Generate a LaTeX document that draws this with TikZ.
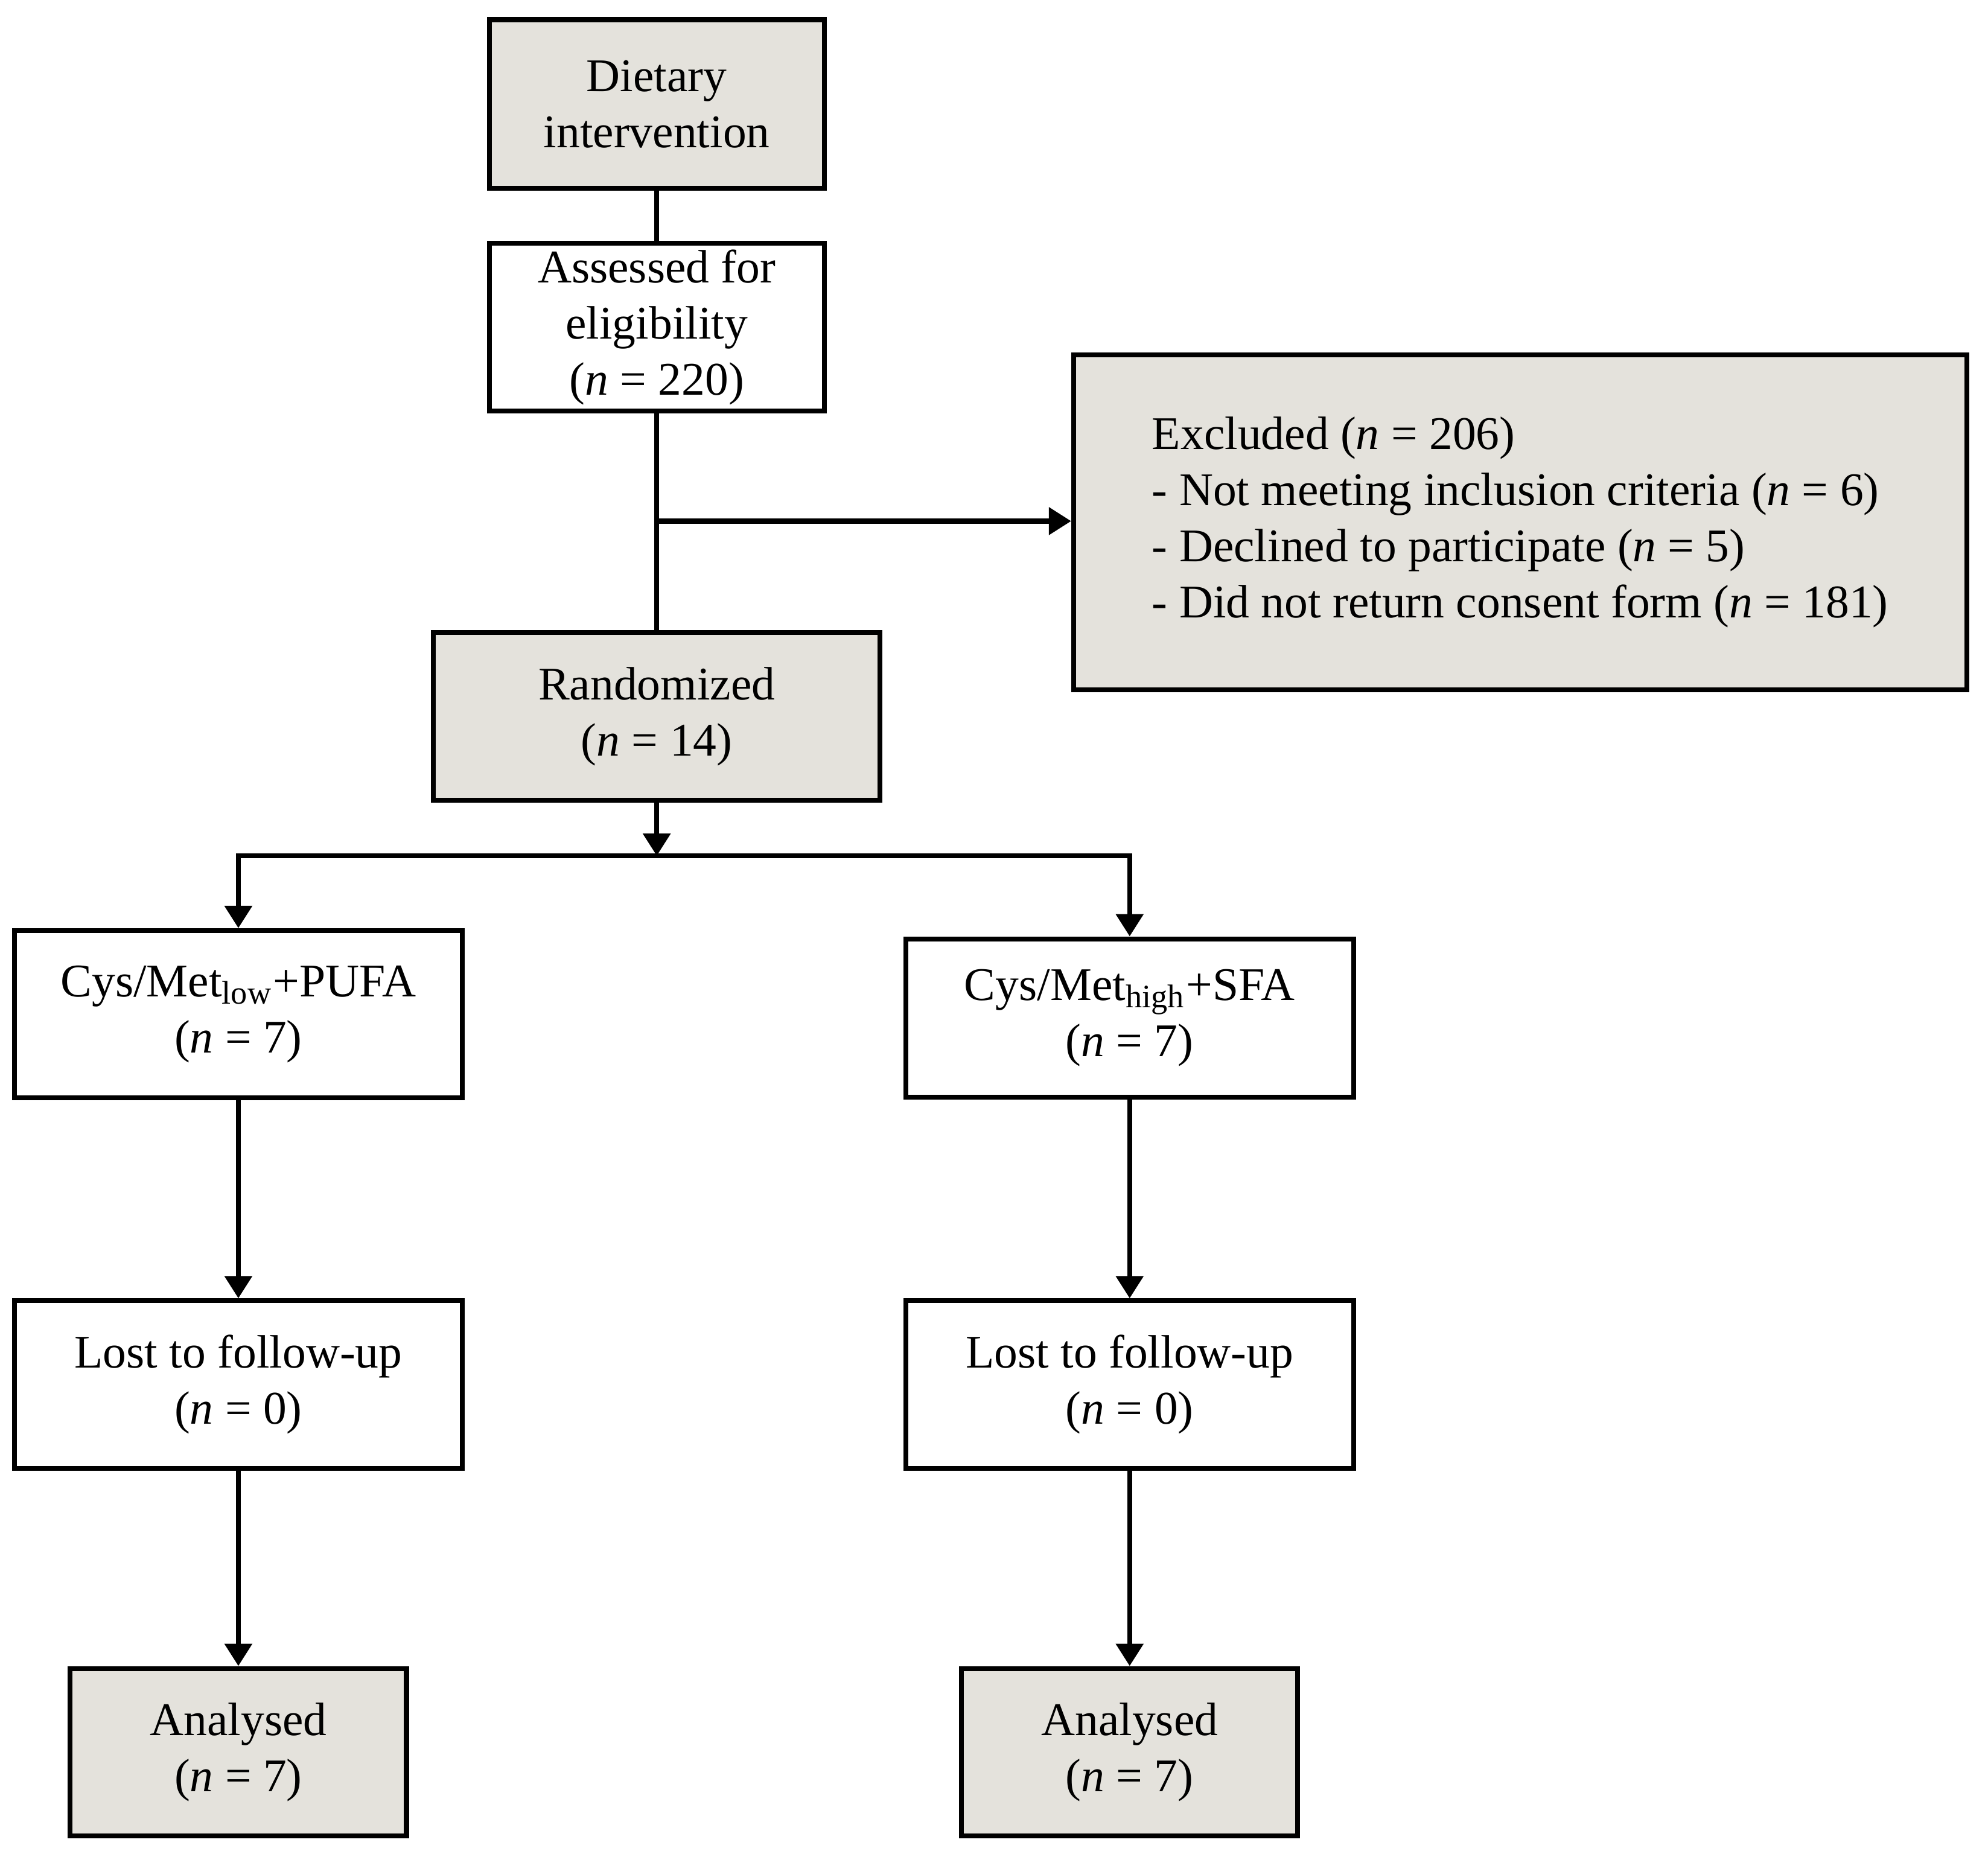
\documentclass[tikz,border=0pt]{standalone}
\usepackage{fontspec}
\setmainfont{Liberation Serif}
\usetikzlibrary{arrows.meta,positioning}
\definecolor{boxgrey}{RGB}{228,226,220}
\tikzset{
  box/.style={draw, line width=1.1pt, align=center, inner sep=0pt,
    font=\fontsize{10.5}{12.6}\selectfont},
  greybox/.style={box, fill=boxgrey},
  flow/.style={line width=1.1pt, -{Triangle[length=5pt,width=6pt]}},
}
\begin{document}
\begin{tikzpicture}[x=0.01cm,y=-0.01cm]
    \useasboundingbox (0,0) rectangle (1568,1462);
    \node[greybox, minimum width=2.64cm, minimum height=1.33cm] (diet) at (518,82) {Dietary\\intervention};
    \node[box, minimum width=2.64cm, minimum height=1.32cm] (assess) at (518,258) {Assessed for\\eligibility\\(\textit{n} = 220)};
    \node[greybox, minimum width=7.04cm, minimum height=2.64cm, align=left] (excl) at (1199,412) {Excluded (\textit{n} = 206)\\- Not meeting inclusion criteria (\textit{n} = 6)\\- Declined to participate (\textit{n} = 5)\\- Did not return consent form (\textit{n} = 181)};
    \node[greybox, minimum width=3.52cm, minimum height=1.32cm] (rand) at (518,565) {Randomized\\(\textit{n} = 14)};
    \node[box, minimum width=3.53cm, minimum height=1.32cm] (low) at (188,800) {Cys/Met\textsubscript{low}+PUFA\\(\textit{n} = 7)};
    \node[box, minimum width=3.53cm, minimum height=1.25cm] (high) at (891,803) {Cys/Met\textsubscript{high}+SFA\\(\textit{n} = 7)};
    \node[box, minimum width=3.53cm, minimum height=1.32cm] (lostl) at (188,1092) {Lost to follow-up\\(\textit{n} = 0)};
    \node[box, minimum width=3.53cm, minimum height=1.32cm] (losth) at (891,1092) {Lost to follow-up\\(\textit{n} = 0)};
    \node[greybox, minimum width=2.65cm, minimum height=1.32cm] (anl) at (188,1382) {Analysed\\(\textit{n} = 7)};
    \node[greybox, minimum width=2.65cm, minimum height=1.32cm] (anh) at (891,1382) {Analysed\\(\textit{n} = 7)};
    \coordinate (split) at (518,411);
    \coordinate (branch) at (518,675);
    \draw[line width=1.1pt] (diet) -- (assess);
    \draw[line width=1.1pt] (assess) -- (rand);
    \draw[flow] (split) -- (excl.west |- split);
    \draw[flow] (rand) -- (branch);
    \draw[flow] (branch) -| (low.north);
    \draw[flow] (branch) -| (high.north);
    \draw[flow] (low) -- (lostl);
    \draw[flow] (high) -- (losth);
    \draw[flow] (lostl) -- (anl);
    \draw[flow] (losth) -- (anh);
\end{tikzpicture}
\end{document}
